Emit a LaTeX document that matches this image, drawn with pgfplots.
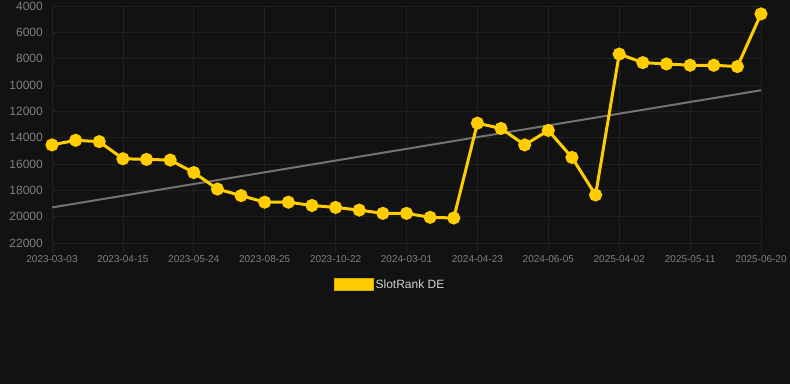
\documentclass[border=0pt]{standalone}
\usepackage{fontspec}
\setmainfont{Liberation Sans}
\usepackage{pgfplots}
\pgfplotsset{compat=1.18}
\definecolor{bg}{RGB}{18,18,18}
\definecolor{gridc}{RGB}{33,33,33}
\definecolor{gold}{RGB}{255,205,0}
\definecolor{trend}{RGB}{115,115,115}
\definecolor{ticklab}{RGB}{128,128,128}
\definecolor{legtext}{RGB}{210,210,210}
\begin{document}
\begin{tikzpicture}[x=1bp,y=1bp]
\fill[bg] (0,0) rectangle (790,384);
\begin{axis}[
  at={(52bp,141bp)}, anchor=south west,
  scale only axis, width=709bp, height=237bp,
  xmin=0, xmax=30, ymin=4000, ymax=22000, y dir=reverse,
  xtick={0,3,...,30},
  xticklabels={2023-03-03,2023-04-15,2023-05-24,2023-08-25,2023-10-22,2024-03-01,2024-04-23,2024-06-05,2025-04-02,2025-05-11,2025-06-20},
  ytick={4000,6000,...,22000},
  scaled y ticks=false,
  grid=major, grid style={draw=gridc, line width=0.8bp},
  axis line style={draw=none},
  tick align=outside, major tick length=9bp,
  xtick style={draw=gridc, line width=0.8bp},
  ytick style={draw=none},
  xtick pos=lower, ytick pos=left,
  /pgf/number format/assume math mode=true,
  /pgf/number format/1000 sep={},
  yticklabel style={font=\fontsize{12bp}{14bp}\selectfont, text=ticklab, inner sep=0pt},
  xticklabel style={font=\fontsize{10bp}{12bp}\selectfont, text=ticklab, inner sep=1.5bp, yshift=-2bp},
  legend style={at={(0.477,-0.175)}, anchor=center, draw=none, fill=none, text=legtext,
    font=\fontsize{12bp}{14bp}\selectfont},
  legend image code/.code={\fill[gold, draw=gold!85!black, line width=0.5bp] (0bp,-6bp) rectangle (39bp,6bp);},
  clip=false,
]
\addplot[trend, line width=2bp, forget plot] coordinates {(0,19300) (30,10400)};
\addplot[gold, line width=3bp, mark=*, mark size=5bp, mark options={fill=gold, draw=gold}] coordinates {
(0,14550) (1,14200) (2,14300) (3,15600) (4,15650) (5,15700) (6,16650) (7,17900)
(8,18400) (9,18900) (10,18900) (11,19150) (12,19300) (13,19500) (14,19750) (15,19750)
(16,20050) (17,20100) (18,12900) (19,13300) (20,14550) (21,13450) (22,15500) (23,18350)
(24,7650) (25,8300) (26,8400) (27,8500) (28,8500) (29,8600) (30,4600)};
\addlegendentry{SlotRank DE}
\end{axis}
\pgfresetboundingbox
\useasboundingbox (0,0) rectangle (790,384);
\end{tikzpicture}
\end{document}
